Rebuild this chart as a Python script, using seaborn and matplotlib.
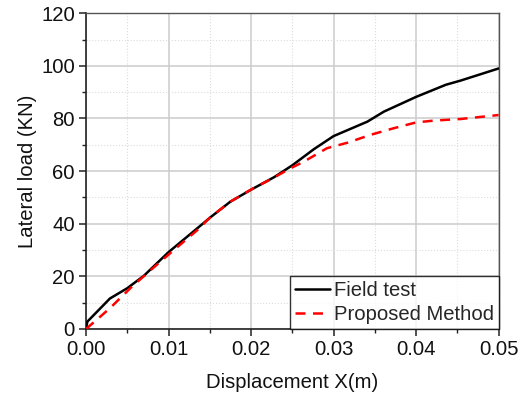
import matplotlib
matplotlib.use("Agg")
import matplotlib.pyplot as plt
from matplotlib.ticker import MultipleLocator, FormatStrFormatter
import pandas as pd
import seaborn as sns

# Load–displacement curves
field_x = [0.0, 0.00016, 0.0029, 0.005, 0.007, 0.010, 0.013, 0.0151, 0.0175, 0.0201,
           0.0228, 0.025, 0.0276, 0.030, 0.0341, 0.0361, 0.040, 0.0436, 0.0454, 0.050]
field_y = [0.0, 2.8, 11.6, 15.5, 20.2, 29.2, 37.0, 42.5, 48.4, 53.1,
           57.7, 62.2, 68.3, 73.3, 78.8, 82.6, 88.2, 92.8, 94.4, 99.0]

method_x = [0.0, 0.0029, 0.0055, 0.0081, 0.0109, 0.0135, 0.015, 0.0175, 0.020, 0.0224,
            0.0248, 0.0264, 0.0292, 0.0317, 0.0345, 0.0373, 0.040, 0.0422, 0.0454, 0.050]
method_y = [0.0, 7.9, 15.9, 23.1, 30.7, 37.6, 42.3, 48.4, 53.0, 56.9,
            61.1, 63.6, 68.7, 70.8, 73.8, 76.3, 78.5, 79.2, 79.8, 81.3]

df = pd.concat([
    pd.DataFrame({"x": field_x, "y": field_y, "series": "Field test"}),
    pd.DataFrame({"x": method_x, "y": method_y, "series": "Proposed Method"}),
])

sns.set_theme(style="white")
plt.rcParams["font.family"] = ["Liberation Sans", "DejaVu Sans"]

FS = 14.6

fig, ax = plt.subplots(figsize=(5.31, 4.00), dpi=100)
fig.subplots_adjust(left=0.162, right=0.939, top=0.967, bottom=0.1775)

sns.lineplot(data=df, x="x", y="y", hue="series", style="series",
             palette={"Field test": "black", "Proposed Method": "red"},
             dashes={"Field test": "", "Proposed Method": (4, 3)},
             linewidth=1.8, ax=ax, sort=False, estimator=None, zorder=3)

ax.set_xlim(0, 0.05)
ax.set_ylim(0, 120)
ax.xaxis.set_major_locator(MultipleLocator(0.01))
ax.xaxis.set_minor_locator(MultipleLocator(0.005))
ax.yaxis.set_major_locator(MultipleLocator(20))
ax.yaxis.set_minor_locator(MultipleLocator(10))
ax.xaxis.set_major_formatter(FormatStrFormatter("%.2f"))

ax.grid(which="major", color="#cccccc", linewidth=1.1, linestyle="-")
ax.grid(which="minor", color="#dcdcdc", linewidth=0.8, linestyle=":")
ax.set_axisbelow(True)

for side in ["left", "bottom"]:
    ax.spines[side].set_color("#222222")
    ax.spines[side].set_linewidth(1.2)
for side in ["top", "right"]:
    ax.spines[side].set_color("#555555")
    ax.spines[side].set_linewidth(1.0)

ax.tick_params(which="major", direction="out", length=5, width=1.1, color="#222222",
               labelsize=FS, labelcolor="#111111", left=True, bottom=True, pad=3)
ax.tick_params(which="minor", direction="out", length=3, width=1.0, color="#222222",
               left=True, bottom=True)

ax.set_xlabel("Displacement X(m)", fontsize=FS, labelpad=10, color="#111111")
ax.set_ylabel("Lateral load (KN)", fontsize=FS, labelpad=3, color="#111111")

leg = ax.legend(loc="lower right", fontsize=FS, frameon=True, fancybox=False,
                borderaxespad=0.0, handlelength=1.75, handletextpad=0.15,
                borderpad=0.25, labelspacing=0.25)
leg.get_frame().set_edgecolor("black")
leg.get_frame().set_linewidth(1.0)
leg.set_title(None)

fig.savefig("out.png", dpi=100)
